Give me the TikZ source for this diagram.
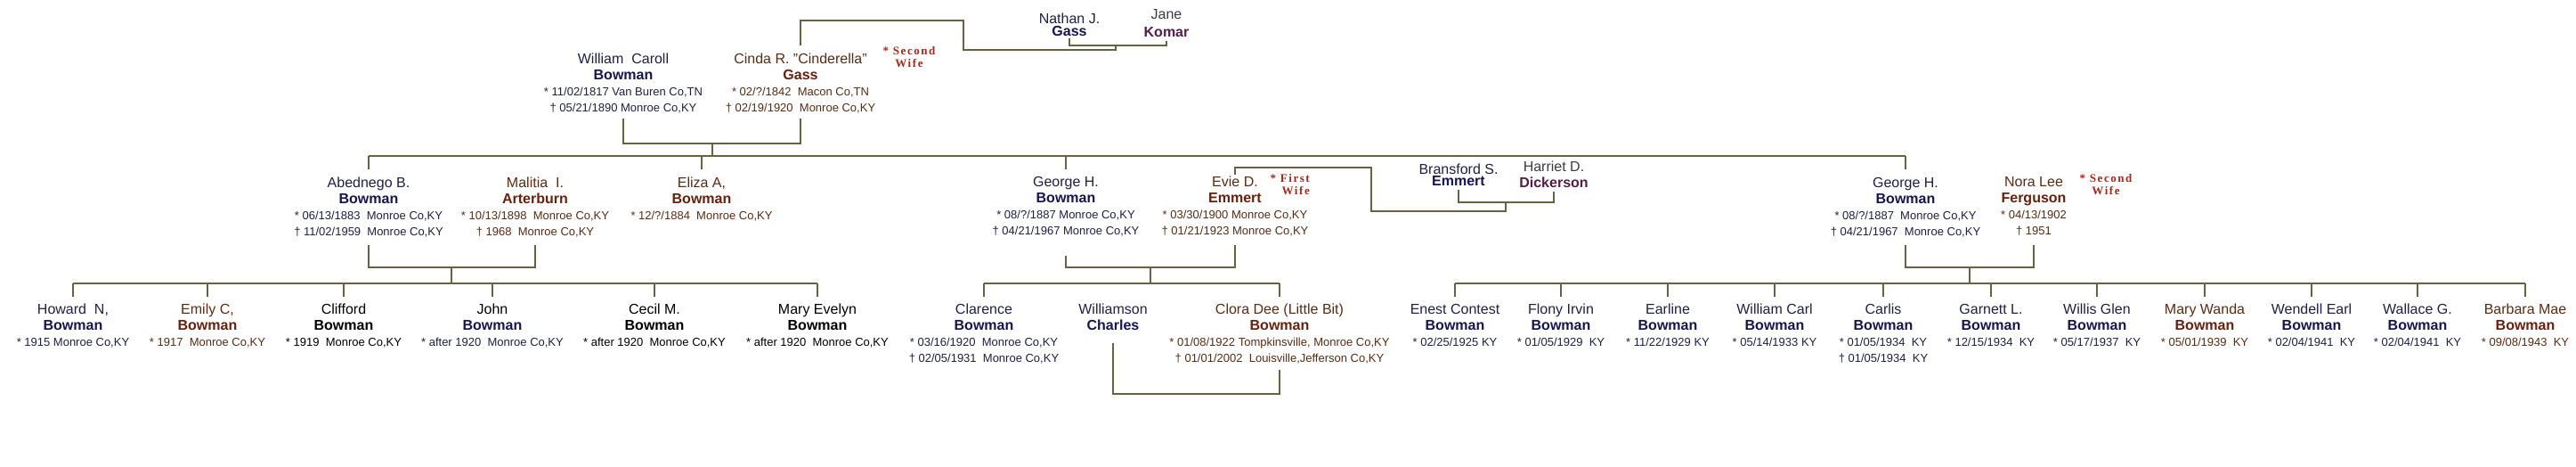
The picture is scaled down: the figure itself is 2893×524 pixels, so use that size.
\documentclass[tikz,border=0pt]{standalone}
\usepackage{fontspec}
\setmainfont{Liberation Sans}
\newfontfamily\notefont[LetterSpace=12]{Liberation Serif}
\usepackage{tikz}
\definecolor{mancap}{RGB}{22,22,82}
\definecolor{manink}{RGB}{32,32,72}
\definecolor{womancap}{RGB}{105,32,12}
\definecolor{womanink}{RGB}{90,44,20}
\definecolor{inlawcap}{RGB}{85,30,72}
\definecolor{inlawink}{RGB}{60,60,66}
\definecolor{wifered}{RGB}{170,40,25}
\definecolor{kinline}{RGB}{102,98,70}

\newcommand{\vital}[1]{{\fontsize{13}{18}\selectfont #1}}
\newcommand{\hisname}[1]{\textcolor{mancap}{\bfseries #1}}
\newcommand{\hername}[1]{\textcolor{womancap}{\bfseries #1}}
\newcommand{\kinname}[1]{\textcolor{inlawcap}{\bfseries #1}}

\tikzset{
  kin/.style={draw=kinline, line width=2pt},
  person/.style={anchor=north, inner sep=0pt, align=center,
    font=\fontsize{16}{18}\selectfont, execute at begin node={\rule{0pt}{12pt}}},
  male/.style={person, text=manink},
  female/.style={person, text=womanink},
  plain/.style={person, text=black},
  inlaw/.style={person, text=inlawink},
  wifenote/.style={text=wifered, inner sep=0pt, align=center,
    font=\notefont\bfseries\fontsize{13}{14}\selectfont},
}

\begin{document}
\begin{tikzpicture}[x=1pt, y=-1pt]
    \fill[white] (0,0) rectangle (2893,524);
    \useasboundingbox (0,0) rectangle (2893,524);

    % great-grandparents
    \node[male]  (nathan) at (1201,14.7) {Nathan J.\\[-4pt]\hisname{Gass}};
    \node[inlaw] (jane)   at (1310,10.7) {Jane\\[2pt]\kinname{Komar}};

    % grandparents
    \node[male] (will) at (700,59.7) {William\ \ Caroll\\\hisname{Bowman}\\
      \vital{* 11/02/1817 Van Buren Co,TN}\\\vital{† 05/21/1890 Monroe Co,KY}};
    \node[female] (cinda) at (899,59.7) {Cinda R. "Cinderella"\\\hername{Gass}\\
      \vital{* 02/?/1842\ \ Macon Co,TN}\\\vital{† 02/19/1920\ \ Monroe Co,KY}};
    \node[wifenote] (note2a) at (1021,64) {* Second\\Wife};

    % children of William and Cinda
    \node[male] (abed) at (414,198.7) {Abednego B.\\\hisname{Bowman}\\
      \vital{* 06/13/1883\ \ Monroe Co,KY}\\\vital{† 11/02/1959\ \ Monroe Co,KY}};
    \node[female] (mal) at (601,198.7) {Malitia\ \ I.\\\hername{Arterburn}\\
      \vital{* 10/13/1898\ \ Monroe Co,KY}\\\vital{† 1968\ \ Monroe Co,KY}};
    \node[female] (eliza) at (788,198.7) {Eliza A,\\\hername{Bowman}\\
      \vital{* 12/?/1884\ \ Monroe Co,KY}};
    \node[male] (georgeL) at (1197,197.7) {George H.\\\hisname{Bowman}\\
      \vital{* 08/?/1887 Monroe Co,KY}\\\vital{† 04/21/1967 Monroe Co,KY}};
    \node[female] (evie) at (1387,197.7) {Evie D.\\\hername{Emmert}\\
      \vital{* 03/30/1900 Monroe Co,KY}\\\vital{† 01/21/1923 Monroe Co,KY}};
    \node[wifenote, anchor=east, align=right] (note1) at (1471,207.5) {* First\\Wife};
    \node[male]  (bran) at (1638,183.7) {Bransford S.\\[-5pt]\hisname{Emmert}};
    \node[inlaw] (harr) at (1745,180.7) {Harriet D.\\\kinname{Dickerson}};
    \node[male] (georgeR) at (2140,198.7) {George H.\\\hisname{Bowman}\\
      \vital{* 08/?/1887\ \ Monroe Co,KY}\\\vital{† 04/21/1967\ \ Monroe Co,KY}};
    \node[female] (nora) at (2284,198.7) {Nora Lee\\\hername{Ferguson}\\
      \vital{* 04/13/1902}\\\vital{† 1951}};
    \node[wifenote] (note2b) at (2365,207) {* Second\\Wife};

    % grandchildren
    \node[male]   (howard)   at (82,340.7)  {Howard\ \ N,\\\hisname{Bowman}\\\vital{* 1915 Monroe Co,KY}};
    \node[female] (emily)    at (233,340.7) {Emily C,\\\hername{Bowman}\\\vital{* 1917\ \ Monroe Co,KY}};
    \node[plain]  (clifford) at (386,340.7) {Clifford\\\textbf{Bowman}\\\vital{* 1919\ \ Monroe Co,KY}};
    \node[male]   (john)     at (553,340.7) {\textcolor{black}{John}\\\hisname{Bowman}\\\vital{* after 1920\ \ Monroe Co,KY}};
    \node[plain]  (cecil)    at (735,340.7) {Cecil M.\\\textbf{Bowman}\\\vital{* after 1920\ \ Monroe Co,KY}};
    \node[plain]  (maryev)   at (918,340.7) {Mary Evelyn\\\textbf{Bowman}\\\vital{* after 1920\ \ Monroe Co,KY}};
    \node[male]   (clarence) at (1105,340.7) {Clarence\\\hisname{Bowman}\\
      \vital{* 03/16/1920\ \ Monroe Co,KY}\\\vital{† 02/05/1931\ \ Monroe Co,KY}};
    \node[male]   (wil)      at (1250,340.7) {Williamson\\\hisname{Charles}};
    \node[female] (clora)    at (1437,340.7) {Clora Dee (Little Bit)\\\hername{Bowman}\\
      \vital{* 01/08/1922 Tompkinsville, Monroe Co,KY}\\\vital{† 01/01/2002\ \ Louisville,Jefferson Co,KY}};
    \node[male]   (enest)    at (1634,340.7) {Enest Contest\\\hisname{Bowman}\\\vital{* 02/25/1925 KY}};
    \node[male]   (flony)    at (1753,340.7) {Flony Irvin\\\hisname{Bowman}\\\vital{* 01/05/1929\ \ KY}};
    \node[male]   (earline)  at (1873,340.7) {Earline\\\hisname{Bowman}\\\vital{* 11/22/1929 KY}};
    \node[male]   (wcarl)    at (1993,340.7) {William Carl\\\hisname{Bowman}\\\vital{* 05/14/1933 KY}};
    \node[male]   (carlis)   at (2115,340.7) {Carlis\\\hisname{Bowman}\\
      \vital{* 01/05/1934\ \ KY}\\\vital{† 01/05/1934\ \ KY}};
    \node[male]   (garnett)  at (2236,340.7) {Garnett L.\\\hisname{Bowman}\\\vital{* 12/15/1934\ \ KY}};
    \node[male]   (willis)   at (2355,340.7) {Willis Glen\\\hisname{Bowman}\\\vital{* 05/17/1937\ \ KY}};
    \node[female] (wanda)    at (2476,340.7) {Mary Wanda\\\hername{Bowman}\\\vital{* 05/01/1939\ \ KY}};
    \node[male]   (wendell)  at (2596,340.7) {Wendell Earl\\\hisname{Bowman}\\\vital{* 02/04/1941\ \ KY}};
    \node[male]   (wallace)  at (2715,340.7) {Wallace G.\\\hisname{Bowman}\\\vital{* 02/04/1941\ \ KY}};
    \node[female] (barbara)  at (2836,340.7) {Barbara Mae\\\hername{Bowman}\\\vital{* 09/08/1943\ \ KY}};

    % junction points
    \coordinate (gassJoin) at (1253,51);
    \coordinate (gassUp)   at (1082,23);
    \coordinate (wcJoin)   at (800,161);
    \coordinate (gen3)     at (800,175);
    \coordinate (abJoin)   at (507,300);
    \coordinate (kidsA)    at (507,318);
    \coordinate (geJoin)   at (1292,300);
    \coordinate (kidsB)    at (1292,318);
    \coordinate (gnJoin)   at (2212,300);
    \coordinate (kidsC)    at (2212,318);
    \coordinate (bhJoin)   at (1691,227);
    \coordinate (evieUp)   at (1540,188);
    \coordinate (clMarr)   at (1343,442);

    % Nathan and Jane to Cinda
    \draw[kin] (nathan.south |- gassJoin) ++(0,-8) -- (nathan.south |- gassJoin)
      -- (jane.south |- gassJoin) -- ++(0,-5);
    \draw[kin, shorten >=8.7pt] (gassJoin) -- ++(0,5) -| (gassUp) -| (cinda.north);

    % William and Cinda
    \draw[kin] (will.south |- wcJoin) ++(0,-28) -- (will.south |- wcJoin)
      -- (cinda.south |- wcJoin) -- ++(0,-28);
    \draw[kin] (wcJoin) -- (gen3);
    \draw[kin] (abed.north |- gen3) -- (georgeR.north |- gen3);
    \foreach \k in {abed,eliza,georgeL,georgeR}
      \draw[kin] (\k.north |- gen3) -- ++(0,15);

    % Bransford and Harriet to Evie
    \draw[kin] (bran.south |- bhJoin) ++(0,-14) -- (bran.south |- bhJoin)
      -- (harr.south |- bhJoin) -- ++(0,-12);
    \draw[kin, shorten >=1.5pt] (bhJoin) -- ++(0,10) -| (evieUp) -| (evie.north);

    % Abednego and Malitia
    \draw[kin] (abed.south |- abJoin) ++(0,-25) -- (abed.south |- abJoin)
      -- (mal.south |- abJoin) -- ++(0,-25);
    \draw[kin] (abJoin) -- (kidsA);
    \draw[kin] (howard.north |- kidsA) -- (maryev.north |- kidsA);
    \foreach \k in {howard,emily,clifford,john,cecil,maryev}
      \draw[kin] (\k.north |- kidsA) -- ++(0,15);

    % George and Evie
    \draw[kin] (georgeL.south |- geJoin) ++(0,-13) -- (georgeL.south |- geJoin)
      -- (evie.south |- geJoin) -- ++(0,-25);
    \draw[kin] (geJoin) -- (kidsB);
    \draw[kin] (clarence.north |- kidsB) -- (clora.north |- kidsB);
    \foreach \k in {clarence,clora}
      \draw[kin] (\k.north |- kidsB) -- ++(0,15);

    % Williamson and Clora
    \draw[kin] (wil.south |- clMarr) ++(0,-57) -- (wil.south |- clMarr)
      -- (clora.south |- clMarr) -- ++(0,-27);

    % George and Nora
    \draw[kin] (georgeR.south |- gnJoin) ++(0,-25) -- (georgeR.south |- gnJoin)
      -- (nora.south |- gnJoin) -- ++(0,-25);
    \draw[kin] (gnJoin) -- (kidsC);
    \draw[kin] (enest.north |- kidsC) -- (barbara.north |- kidsC);
    \foreach \k in {enest,flony,earline,wcarl,carlis,garnett,willis,wanda,wendell,wallace,barbara}
      \draw[kin] (\k.north |- kidsC) -- ++(0,15);
\end{tikzpicture}
\end{document}
